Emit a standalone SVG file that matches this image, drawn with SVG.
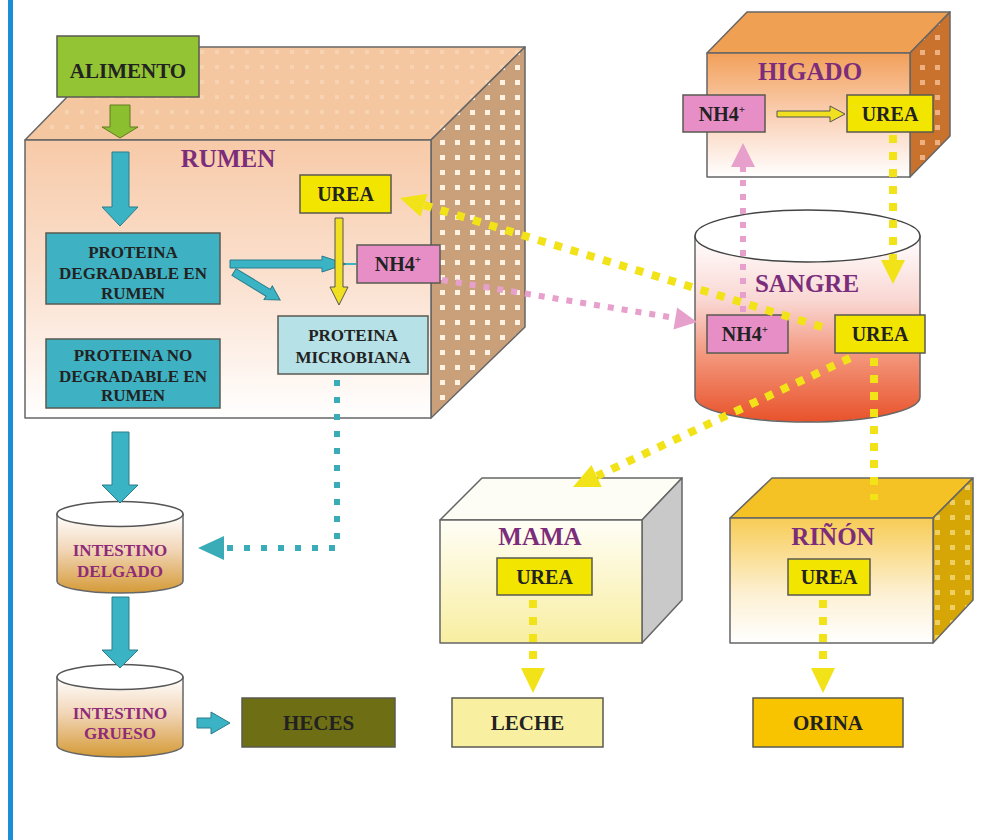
<svg xmlns="http://www.w3.org/2000/svg" width="983" height="840" viewBox="0 0 983 840">
<style>
text{font-family:"Liberation Serif","Times New Roman",serif;font-weight:bold;text-anchor:middle;fill:#222}
.lbl{fill:#7b2d7b;font-size:25px}
.box{stroke:#5a5a50;stroke-width:1.5}
.edge{stroke:#666;stroke-width:1.5;stroke-linejoin:round}
.urea{fill:#f2e600}
.nh4{fill:#e88ec6}
.t20{font-size:20px}
.t17{font-size:17px}
.t21{font-size:21px}
.intl{font-size:17px;fill:#8e2a78}
.blk{fill:#3ab4c4;stroke:#2a7d8a;stroke-width:1}
.thin{stroke:#555;stroke-width:1}
.dy{fill:none;stroke:#f2e218;stroke-width:8;stroke-dasharray:8 9}
.dp{fill:none;stroke:#e7a0cc;stroke-width:6;stroke-dasharray:6 8}
.dt{fill:none;stroke:#3aacb8;stroke-width:6;stroke-dasharray:6 11}
</style>
<defs>
<linearGradient id="gRumen" x1="0" y1="0" x2="0" y2="1"><stop offset="0" stop-color="#f7caa8"/><stop offset="0.55" stop-color="#fbe3d3"/><stop offset="1" stop-color="#ffffff"/></linearGradient>
<linearGradient id="gHig" x1="0" y1="0" x2="0" y2="1"><stop offset="0" stop-color="#f2a05a"/><stop offset="0.6" stop-color="#fbd9c4"/><stop offset="1" stop-color="#ffffff"/></linearGradient>
<linearGradient id="gSan" x1="0" y1="0" x2="0" y2="1"><stop offset="0" stop-color="#ffffff"/><stop offset="0.35" stop-color="#f9d6d2"/><stop offset="0.65" stop-color="#f3957a"/><stop offset="1" stop-color="#e8522a"/></linearGradient>
<linearGradient id="gMama" x1="0" y1="0" x2="0" y2="1"><stop offset="0" stop-color="#fffef6"/><stop offset="1" stop-color="#f8eea0"/></linearGradient>
<linearGradient id="gRin" x1="0" y1="0" x2="0" y2="1"><stop offset="0" stop-color="#f7cc55"/><stop offset="0.6" stop-color="#fdf0d2"/><stop offset="1" stop-color="#ffffff"/></linearGradient>
<linearGradient id="gInt" x1="0" y1="0" x2="0" y2="1"><stop offset="0" stop-color="#ffffff"/><stop offset="0.45" stop-color="#f2d6b8"/><stop offset="1" stop-color="#d49a36"/></linearGradient>
<pattern id="pRumSide" width="15" height="15" patternUnits="userSpaceOnUse"><rect width="15" height="15" fill="#c9a07a"/><rect x="5" y="5" width="5" height="5" fill="#fff2e2"/></pattern>
<pattern id="pRumTop" width="15" height="15" patternUnits="userSpaceOnUse"><rect width="15" height="15" fill="#f5c7a0"/><rect x="5" y="5" width="4" height="4" fill="#f8d3b2"/></pattern>
<pattern id="pHigSide" width="15" height="15" patternUnits="userSpaceOnUse"><rect width="15" height="15" fill="#c8722e"/><rect x="5" y="5" width="5" height="5" fill="#eeb080"/></pattern>
<pattern id="pRinSide" width="15" height="15" patternUnits="userSpaceOnUse"><rect width="15" height="15" fill="#d6a606"/><rect x="5" y="5" width="5" height="5" fill="#eed060"/></pattern>
</defs>
<rect width="983" height="840" fill="#ffffff"/>
<rect x="8" y="0" width="5" height="840" fill="#1a8fd8"/>

<g id="rumen">
<polygon class="edge" points="25,140 116,47 525,47 431,140" fill="url(#pRumTop)"/>
<polygon class="edge" points="431,140 525,47 525,327 431,418" fill="url(#pRumSide)"/>
<rect class="edge" x="25" y="140" width="406" height="278" fill="url(#gRumen)"/>
<text class="lbl" x="228" y="167">RUMEN</text>
</g>

<g id="alimento">
<rect class="box" x="57" y="36" width="142" height="61" fill="#93c434"/>
<text class="t21" x="128" y="78">ALIMENTO</text>
</g>

<g id="proteina-degradable">
<rect class="box" x="46" y="233" width="174" height="71" fill="#3eb2c2"/>
<text class="t17" x="133" y="258">PROTEINA</text>
<text class="t17" x="133" y="279">DEGRADABLE EN</text>
<text class="t17" x="133" y="299">RUMEN</text>
</g>

<g id="proteina-no-degradable">
<rect class="box" x="46" y="339" width="174" height="69" fill="#3eb2c2"/>
<text class="t17" x="133" y="361">PROTEINA NO</text>
<text class="t17" x="133" y="382">DEGRADABLE EN</text>
<text class="t17" x="133" y="401">RUMEN</text>
</g>

<g id="urea-rumen">
<rect class="box urea" x="300" y="175" width="91" height="38"/>
<text class="t20" x="345.5" y="201">UREA</text>
</g>

<g id="nh4-rumen">
<rect class="box nh4" x="357" y="245" width="83" height="38"/>
<text class="t20" x="398" y="271">NH4<tspan font-size="11" dy="-8">+</tspan></text>
</g>

<g id="proteina-microbiana">
<rect class="box" x="278" y="316" width="150" height="58" fill="#b6e1e6"/>
<text class="t17" x="353" y="341">PROTEINA</text>
<text class="t17" x="353" y="363">MICROBIANA</text>
</g>

<g id="higado">
<polygon class="edge" points="707,53 747,12 950,12 910,53" fill="#f0a052"/>
<polygon class="edge" points="910,53 950,12 950,136 910,177" fill="url(#pHigSide)"/>
<rect class="edge" x="707" y="53" width="203" height="124" fill="url(#gHig)"/>
<text class="lbl" x="810" y="80">HIGADO</text>
</g>

<g id="nh4-higado">
<rect class="box nh4" x="683" y="95" width="82" height="37"/>
<text class="t20" x="722" y="121">NH4<tspan font-size="11" dy="-8">+</tspan></text>
</g>

<g id="urea-higado">
<rect class="box urea" x="847" y="95" width="86" height="37"/>
<text class="t20" x="890" y="121">UREA</text>
</g>

<g id="sangre">
<path class="edge" d="M695,236 V397 A112.5,25 0 0 0 920,397 V236 Z" fill="url(#gSan)"/>
<ellipse cx="807.5" cy="236" rx="112.5" ry="26" fill="#ffffff" stroke="#444" stroke-width="1.5"/>
<text class="lbl" x="807" y="292">SANGRE</text>
</g>

<g id="nh4-sangre">
<rect class="box nh4" x="707" y="315" width="81" height="38"/>
<text class="t20" x="745" y="341">NH4<tspan font-size="11" dy="-8">+</tspan></text>
</g>

<g id="urea-sangre">
<rect class="box urea" x="835" y="315" width="90" height="38"/>
<text class="t20" x="880" y="341">UREA</text>
</g>

<g id="intestino-delgado">
<path class="edge" d="M57,514 V581 A63,12 0 0 0 183,581 V514 Z" fill="url(#gInt)"/>
<ellipse cx="120" cy="514" rx="63" ry="12.5" fill="#ffffff" stroke="#555" stroke-width="1.5"/>
<text class="intl" x="120" y="556">INTESTINO</text>
<text class="intl" x="120" y="577">DELGADO</text>
</g>

<g id="intestino-grueso">
<path class="edge" d="M57,677 V745 A63,12 0 0 0 183,745 V677 Z" fill="url(#gInt)"/>
<ellipse cx="120" cy="677" rx="63" ry="12.5" fill="#ffffff" stroke="#555" stroke-width="1.5"/>
<text class="intl" x="120" y="719">INTESTINO</text>
<text class="intl" x="120" y="739">GRUESO</text>
</g>

<g id="heces">
<rect class="box" x="242" y="698" width="153" height="49" fill="#6e6e14"/>
<text class="t21" x="318.5" y="730">HECES</text>
</g>

<g id="mama">
<polygon class="edge" points="440,520 482,478 682,478 642,520" fill="#fdfdf6"/>
<polygon class="edge" points="642,520 682,478 682,600 642,643" fill="#c9c9c9"/>
<rect class="edge" x="440" y="520" width="202" height="123" fill="url(#gMama)"/>
<text class="lbl" x="540" y="545">MAMA</text>
</g>

<g id="urea-mama">
<rect class="box urea" x="497" y="558" width="95" height="37"/>
<text class="t20" x="544.5" y="584">UREA</text>
</g>

<g id="rinon">
<polygon class="edge" points="730,518 772,478 973,478 933,518" fill="#f5c226"/>
<polygon class="edge" points="933,518 973,478 973,600 933,643" fill="url(#pRinSide)"/>
<rect class="edge" x="730" y="518" width="203" height="125" fill="url(#gRin)"/>
<text class="lbl" x="833" y="545">RIÑÓN</text>
</g>

<g id="urea-rinon">
<rect class="box urea" x="788" y="559" width="82" height="36"/>
<text class="t20" x="829" y="584">UREA</text>
</g>

<g id="leche">
<rect class="box" x="452" y="698" width="151" height="49" fill="#f8f0a0"/>
<text class="t21" x="527.5" y="730">LECHE</text>
</g>

<g id="orina">
<rect class="box" x="753" y="698" width="150" height="49" fill="#f8c400"/>
<text class="t21" x="828" y="730">ORINA</text>
</g>

<g id="connectors">
<polygon points="110,105 130,105 130,127 138,127 120,138 102,127 110,127" fill="#8cbf30" stroke="#607a20" stroke-width="1"/>
<polygon class="blk" points="112,152 129,152 129,207 138,207 120,226 102,207 112,207"/>
<polygon class="blk" points="112,432 129,432 129,485 138,485 120,503 102,485 112,485"/>
<polygon class="blk" points="112,597 129,597 129,650 138,650 120,668 102,650 112,650"/>
<polygon class="blk" points="197,718 211,718 211,712 230,723 211,734 211,728 197,728"/>
<polygon class="blk" points="230,260 322,260 322,256 346,264 322,272 322,268 230,268"/>
<line x1="346" y1="264" x2="356" y2="264" stroke="#3ab4c4" stroke-width="2"/>
<polygon class="blk" transform="translate(234,272) rotate(31.3)" points="0,-4 40,-4 40,-8 54,0 40,8 40,4 0,4"/>
<polygon class="thin" fill="#f0e020" points="335,218 343,218 343,287 348,287 339,305 330,287 335,287"/>
<polygon class="thin" fill="#f0e020" points="777,111 830,111 830,106 845,114 830,122 830,117 777,117"/>

<path class="dy" d="M822,327 L424,205"/>
<polygon fill="#f2e218" points="400,198 427.5,193.8 420.5,216.8"/>
<path class="dy" d="M893,135 V260"/>
<polygon fill="#f2e218" points="881,260 905,260 893,284"/>
<path class="dy" d="M850,358 L597,476"/>
<polygon fill="#f2e218" points="573,487 601.7,486.9 591.5,465.1"/>
<path class="dy" d="M874,358 V500"/>
<path class="dy" d="M533,600 V668"/>
<polygon fill="#f2e218" points="521,668 545,668 533,693"/>
<path class="dy" d="M823,600 V668"/>
<polygon fill="#f2e218" points="811,668 835,668 823,693"/>

<path class="dp" d="M442,280 L675,318"/>
<polygon fill="#e7a0cc" points="697,322 677.1,307.6 673.5,329.4"/>
<path class="dp" d="M743,312 V167"/>
<polygon fill="#e7a0cc" points="731,167 755,167 743,143"/>

<path class="dt" d="M337,380 V548 H224"/>
<polygon fill="#3aacb8" points="198,548 224,536 224,560"/>
</g>
</svg>
